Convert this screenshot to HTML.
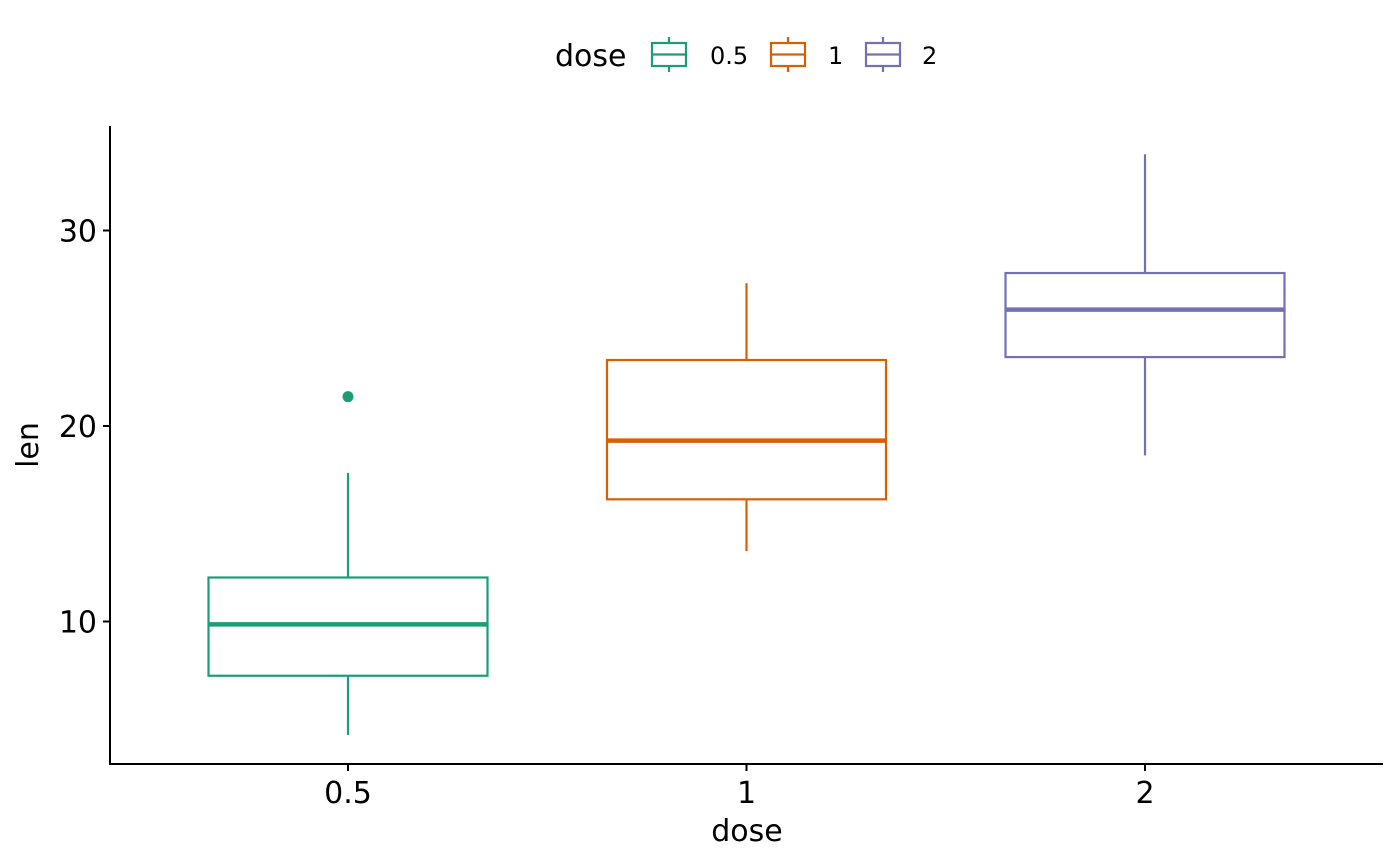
<!DOCTYPE html>
<html><head><meta charset="utf-8"><style>
body{margin:0;background:#fff}
svg{display:block;font-family:"DejaVu Sans","Liberation Sans",sans-serif}
</style></head><body>
<svg id="chart" width="1400" height="866">
<g id="legend">
<text x="555" y="66" font-size="30" fill="#000">dose</text>
</g>
<g id="marks"></g>
<line x1="110" y1="126" x2="110" y2="765" stroke="#000" stroke-width="2"/>
<line x1="109" y1="764" x2="1383" y2="764" stroke="#000" stroke-width="2"/>
<g id="axes"></g>
<text x="747" y="841" font-size="30" text-anchor="middle">dose</text>
<text transform="translate(38,445) rotate(-90)" font-size="30" text-anchor="middle">len</text>
</svg>
<script>
const categories=["0.5","1","2"];
const colors=["#1b9e77","#d95f02","#7570b3"];
const mins=[4.2,13.6,18.5];
const q1s=[7.225,16.25,23.525];
const medians=[9.85,19.25,25.95];
const q3s=[12.25,23.375,27.825];
const maxs=[17.6,27.3,33.9];
const outliers=[[21.5],[],[]];
const yTicks=[10,20,30];
const NS="http://www.w3.org/2000/svg";
function y(v){return 426-(v-20)*19.55;}
function x(i){return 348+i*398.5;}
const bw=279;
function mk(tag,attrs,parent){const e=document.createElementNS(NS,tag);for(const k in attrs)e.setAttribute(k,attrs[k]);parent.appendChild(e);return e;}
const marks=document.getElementById('marks'),axes=document.getElementById('axes'),legend=document.getElementById('legend');
categories.forEach((c,i)=>{
  const g=mk('g',{},marks);
  
  
  const cx=x(i),col=colors[i];
  mk('line',{x1:cx,x2:cx,y1:y(q3s[i]),y2:y(maxs[i]),stroke:col,'stroke-width':2.2},g);
  mk('line',{x1:cx,x2:cx,y1:y(q1s[i]),y2:y(mins[i]),stroke:col,'stroke-width':2.2},g);
  mk('rect',{x:cx-bw/2,y:y(q3s[i]),width:bw,height:y(q1s[i])-y(q3s[i]),fill:'#fff',stroke:col,'stroke-width':2.2},g);
  mk('line',{x1:cx-bw/2,x2:cx+bw/2,y1:y(medians[i]),y2:y(medians[i]),stroke:col,'stroke-width':4.5},g);
  outliers[i].forEach(o=>{const p=mk('circle',{cx:cx,cy:y(o),r:5.5,fill:col},g);
    
    });
  mk('line',{x1:cx,x2:cx,y1:764,y2:771,stroke:'#000','stroke-width':2},axes);
  const l=mk('text',{x:cx,y:803,'font-size':30,'text-anchor':'middle'},axes);l.textContent=c;
  
  
  const lx=[652,771,866][i];
  const lg=mk('g',{},legend);
  
  
  mk('line',{x1:lx+17,x2:lx+17,y1:37,y2:72,stroke:col,'stroke-width':2.2},lg);
  mk('rect',{x:lx,y:43,width:34,height:23,fill:'#fff',stroke:col,'stroke-width':2.2},lg);
  mk('line',{x1:lx,x2:lx+34,y1:54.5,y2:54.5,stroke:col,'stroke-width':2.2},lg);
  const lt=mk('text',{x:lx+[58,57,56][i],y:64,'font-size':24},lg);lt.textContent=c;
});
yTicks.forEach(v=>{
  mk('line',{x1:103,x2:110,y1:y(v),y2:y(v),stroke:'#000','stroke-width':2},axes);
  const t=mk('text',{x:97,y:y(v)+11,'font-size':30,'text-anchor':'end'},axes);t.textContent=v;
  
  
});
</script>
</body></html>
